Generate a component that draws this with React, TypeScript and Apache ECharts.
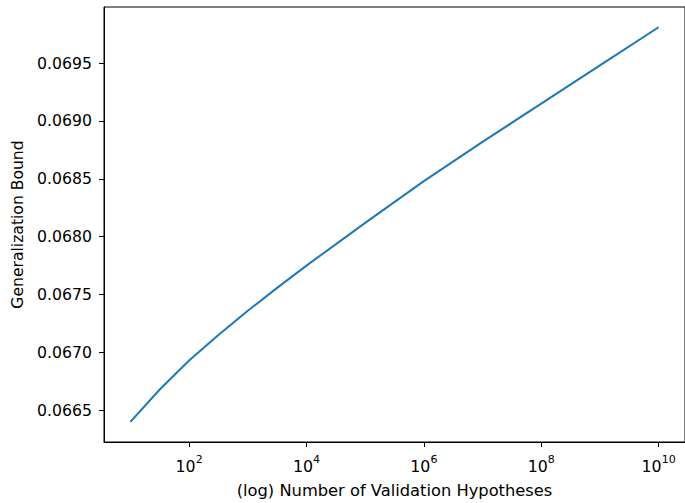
import React, { useEffect, useRef } from "react";
import * as echarts from "echarts";

// Number of validation hypotheses (log-scaled axis) and the generalization bound
const hypotheses = [10, 31.6, 100, 316, 1e3, 3160, 1e4, 1e5, 1e6, 1e7, 1e8, 1e9, 1e10];
const bound = [0.0664, 0.06668, 0.06693, 0.06715, 0.06736, 0.067558, 0.06775, 0.06812, 0.06848, 0.06882, 0.06915, 0.06948, 0.06981];

// tick labels
const xTickExponents = [2, 4, 6, 8, 10];
const yTicks = [0.0665, 0.067, 0.0675, 0.068, 0.0685, 0.069, 0.0695];

const xLogMin = 0.55;
const xLogMax = 10.45;
const yMin = 0.066226;
const yMax = 0.069985;

export default function App() {
  const ref = useRef<HTMLDivElement>(null);
  useEffect(() => {
    if (!ref.current) return;
    const chart = echarts.init(ref.current, null, { renderer: "svg" });
    const font = "DejaVu Sans";
    chart.setOption({
      animation: false,
      backgroundColor: "#fff",
      textStyle: { fontFamily: font, color: "#000" },
      grid: {
        left: 104,
        top: 7,
        width: 586,
        height: 436.5,
        show: true,
        borderColor: "#000",
        borderWidth: 1,
        backgroundColor: "transparent",
      },
      xAxis: [
        {
          type: "log",
          logBase: 10,
          min: Math.pow(10, xLogMin),
          max: Math.pow(10, xLogMax),
          show: false,
          position: "bottom",
        },
        {
          type: "value",
          min: xLogMin,
          max: xLogMax,
          position: "bottom",
          name: "(log) Number of Validation Hypotheses",
          nameLocation: "middle",
          nameGap: 40,
          nameTextStyle: { fontFamily: font, fontSize: 16.3, color: "#000" },
          axisLine: { show: true, lineStyle: { color: "#000", width: 1 } },
          axisTick: {
            show: true,
            length: 5,
            lineStyle: { color: "#000", width: 1 },
            customValues: xTickExponents,
          },
          axisLabel: {
            customValues: xTickExponents,
            margin: 12,
            formatter: (v: number) => `{b|10}{s|${v}}`,
            rich: {
              b: { fontFamily: font, fontSize: 15.8, color: "#000", verticalAlign: "bottom", lineHeight: 20 },
              s: { fontFamily: font, fontSize: 11, color: "#000", verticalAlign: "top", lineHeight: 12 },
            },
          },
          splitLine: { show: false },
        },
      ],
      yAxis: {
        type: "value",
        min: yMin,
        max: yMax,
        name: "Generalization Bound",
        nameLocation: "middle",
        nameGap: 78,
        nameTextStyle: { fontFamily: font, fontSize: 15.6, color: "#000" },
        axisLine: { show: true, lineStyle: { color: "#000", width: 1 } },
        axisTick: {
          show: true,
          length: 5,
          lineStyle: { color: "#000", width: 1 },
          customValues: yTicks,
        },
        axisLabel: {
          customValues: yTicks,
          margin: 12,
          fontFamily: font,
          fontSize: 15.7,
          color: "#000",
          formatter: (v: number) => v.toFixed(4),
        },
        splitLine: { show: false },
      },
      series: [
        {
          type: "line",
          xAxisIndex: 0,
          data: hypotheses.map((n, i) => [n, bound[i]]),
          showSymbol: false,
          smooth: false,
          lineStyle: { color: "#1f77b4", width: 2 },
          itemStyle: { color: "#1f77b4" },
        },
      ],
    });
    return () => chart.dispose();
  }, []);
  return (
    <div
      ref={ref}
      style={{ position: "fixed", left: 0, top: 0, width: 685, height: 503, background: "#fff" }}
    />
  );
}
